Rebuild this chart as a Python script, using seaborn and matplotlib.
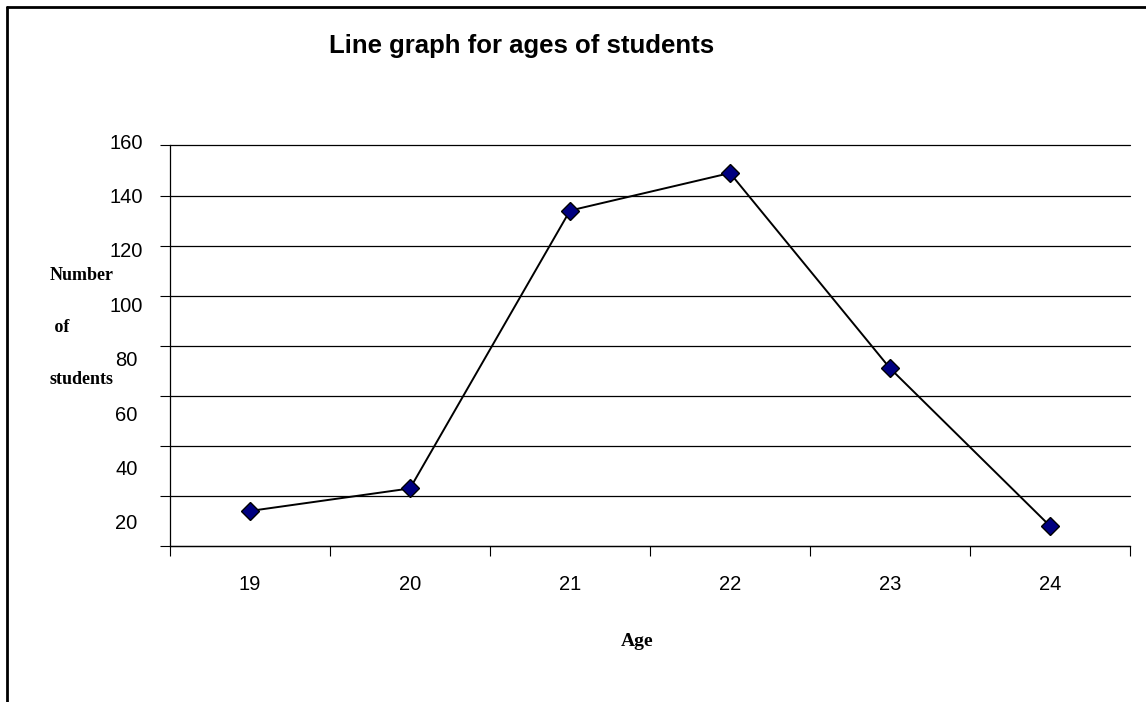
import matplotlib
matplotlib.use("Agg")
import matplotlib.pyplot as plt
import seaborn as sns
import pandas as pd
from matplotlib.lines import Line2D

ages = ["19", "20", "21", "22", "23", "24"]
students = [14, 23, 134, 149, 71, 8]
y_ticks = [0, 20, 40, 60, 80, 100, 120, 140, 160]
y_tick_labels = [20, 40, 60, 80, 100, 120, 140, 160]
title = "Line graph for ages of students"
x_label = "Age"
y_label_lines = ["Number", " of", "students"]

sns.set_theme(style="white")
plt.rcParams["font.family"] = ["Liberation Sans", "DejaVu Sans"]

df = pd.DataFrame({"Age": ages, "Students": students})

W, H = 1146, 702
fig = plt.figure(figsize=(W / 100, H / 100), dpi=100)
fig.patch.set_facecolor("white")

def px_rect(left, top, right, bottom):
    return [left / W, (H - bottom) / H, (right - left) / W, (bottom - top) / H]

ax = fig.add_axes(px_rect(170, 145.5, 1130, 546))
ax.set_facecolor("white")

sns.lineplot(data=df, x="Age", y="Students", ax=ax, color="black", linewidth=1.4,
             marker="D", markersize=9.5, markerfacecolor="#000080",
             markeredgecolor="black", markeredgewidth=1.0, sort=False)

ax.set_xlim(-0.5, len(ages) - 0.5)
ax.set_ylim(0, 160)

# x ticks: marks at category boundaries, labels centred on categories
ax.set_xticks([i - 0.5 for i in range(len(ages) + 1)])
ax.set_xticklabels([])
ax.set_xticks(range(len(ages)), minor=True)
ax.set_xticklabels(ages, minor=True, fontsize=14.5)
ax.tick_params(axis="x", which="major", direction="out", length=7, width=0.8, color="black", bottom=True)
ax.tick_params(axis="x", which="minor", length=0, pad=21, labelcolor="black", bottom=True)

ax.set_yticks(y_ticks)
ax.set_yticklabels([])
ax.tick_params(axis="y", which="major", direction="out", length=7, width=0.8, color="black", left=True)
ax.yaxis.grid(True, color="black", linewidth=0.9)
ax.xaxis.grid(False)
for gl in ax.get_ygridlines():
    gl.set_clip_on(False)

for s in ["top", "right"]:
    ax.spines[s].set_visible(False)
for s in ["left", "bottom"]:
    ax.spines[s].set_color("black")
    ax.spines[s].set_linewidth(0.9)
ax.set_xlabel("")
ax.set_ylabel("")

# y tick labels (spaced as in the original chart)
lab = fig.add_axes(px_rect(170, 127.4, 171, 549.2))
lab.set_ylim(10, 165)
lab.patch.set_alpha(0)
for s in lab.spines.values():
    s.set_visible(False)
lab.set_xticks([])
lab.set_yticks(y_tick_labels)
lab.set_yticklabels([str(v) for v in y_tick_labels], fontsize=14.5)
lab.tick_params(axis="y", length=0, pad=31.5, labelcolor="black")
for t in lab.get_yticklabels():
    t.set_horizontalalignment("center")

fig.text(522 / W, 1 - 46 / H, title, ha="center", va="center",
         fontsize=18.5, fontweight="bold", color="black")
fig.text(637 / W, 1 - 642 / H, x_label, ha="center", va="center",
         fontsize=14, fontweight="bold", color="black", family=["Liberation Serif", "DejaVu Serif"])
for txt, xx, yy in zip(y_label_lines, [50, 50, 50], [276, 327, 379]):
    fig.text(xx / W, 1 - yy / H, txt, ha="left", va="center", fontsize=13,
             fontweight="bold", color="black", family=["Liberation Serif", "DejaVu Serif"])

# page border (left and top)
fig.add_artist(Line2D([7 / W, 7 / W], [0, 1 - 6.5 / H], transform=fig.transFigure,
                      color="black", linewidth=2))
fig.add_artist(Line2D([7 / W, 1], [1 - 6.5 / H, 1 - 6.5 / H], transform=fig.transFigure,
                      color="black", linewidth=2))

fig.savefig("out.png", dpi=100, facecolor="white")
